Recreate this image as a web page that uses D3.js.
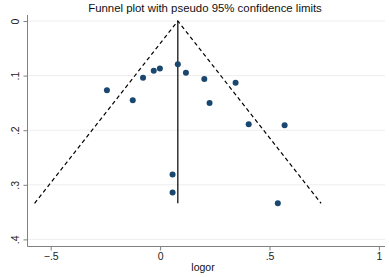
<!DOCTYPE html>
<html>
<head>
<meta charset="utf-8">
<script src="https://cdn.jsdelivr.net/npm/d3@7"></script>
<style>
  body { margin: 0; background: #fff; }
  text { font-family: "Liberation Sans", Arial, sans-serif; }
</style>
</head>
<body>
<div id="chart"></div>
<script>
// study estimates (log odds ratio) and their standard errors
const logor = [-0.243, -0.125, -0.078, -0.029, -0.001, 0.081, 0.118, 0.202, 0.226, 0.345, 0.405, 0.569, 0.057, 0.057, 0.538];
const se    = [0.127, 0.145, 0.104, 0.091, 0.087, 0.079, 0.095, 0.106, 0.150, 0.113, 0.189, 0.191, 0.281, 0.314, 0.334];
const pooled = 0.081;
const seMax = 0.334;
const xTicks = [-0.5, 0, 0.5, 1];
const yTicks = [0, 0.1, 0.2, 0.3, 0.4];

const fullWidth = 389, fullHeight = 277;

const svg = d3.select("#chart")
  .append("svg")
  .attr("width", fullWidth)
  .attr("height", fullHeight);

// scales
const x = d3.scaleLinear().domain([-0.5, 1]).range([50.7, 378.9]);
const y = d3.scaleLinear().domain([0, 0.4]).range([21, 239.4]);

const plotLeft = 27.5, plotRight = 385, plotTop = 15, plotBottom = 246.5;

// gridlines
svg.append("g")
  .selectAll("line")
  .data(yTicks)
  .join("line")
  .attr("x1", plotLeft)
  .attr("x2", plotRight)
  .attr("y1", d => y(d))
  .attr("y2", d => y(d))
  .attr("stroke", "#eeeeee")
  .attr("stroke-width", 1);

// Y axis
const yAxis = svg.append("g")
  .attr("transform", `translate(${plotLeft},0)`)
  .call(d3.axisLeft(y).tickValues(yTicks).tickSize(4).tickSizeOuter(0)
    .tickFormat(d => d === 0 ? "0" : d3.format(".1f")(d).replace(/^0/, "")));
yAxis.select(".domain").attr("d", `M0,${plotTop}V${plotBottom}`);
yAxis.selectAll(".domain, .tick line").attr("stroke", "#808080");
yAxis.selectAll(".tick text")
  .attr("transform", "rotate(-90)")
  .attr("x", 0)
  .attr("y", -9)
  .attr("dy", 0)
  .attr("text-anchor", "middle")
  .style("font-size", "10.5px")
  .attr("fill", "#222");

// X axis
const xAxis = svg.append("g")
  .attr("transform", `translate(0,${plotBottom})`)
  .call(d3.axisBottom(x).tickValues(xTicks).tickSize(4).tickSizeOuter(0)
    .tickFormat(d => d === 0 ? "0" : d3.format(".1f")(d).replace("0.", ".").replace(".0", "")));
xAxis.select(".domain").attr("d", `M${plotLeft},0H${plotRight}`);
xAxis.selectAll(".domain, .tick line").attr("stroke", "#808080");
xAxis.selectAll(".tick text")
  .attr("dy", "0.71em")
  .attr("y", 6)
  .style("font-size", "10.5px")
  .attr("fill", "#222");

// pseudo 95% confidence limits
const funnel = [[pooled - 1.96 * seMax, seMax], [pooled, 0], [pooled + 1.96 * seMax, seMax]];
svg.append("path")
  .datum(funnel)
  .attr("d", d3.line().x(d => x(d[0])).y(d => y(d[1])))
  .attr("fill", "none")
  .attr("stroke", "#000")
  .attr("stroke-width", 1.2)
  .attr("stroke-dasharray", "4,3");

// pooled estimate line
svg.append("line")
  .attr("x1", x(pooled))
  .attr("x2", x(pooled))
  .attr("y1", y(0))
  .attr("y2", y(seMax))
  .attr("stroke", "#000")
  .attr("stroke-width", 1.2);

// study points
svg.append("g")
  .selectAll("circle")
  .data(logor.map((d, i) => ({ x: d, y: se[i] })))
  .join("circle")
  .attr("cx", d => x(d.x))
  .attr("cy", d => y(d.y))
  .attr("r", 3)
  .attr("fill", "#1a476f");

// title
svg.append("text")
  .attr("x", 205)
  .attr("y", 12)
  .attr("text-anchor", "middle")
  .style("font-size", "11.4px")
  .attr("fill", "#111")
  .text("Funnel plot with pseudo 95% confidence limits");

// x label
svg.append("text")
  .attr("x", 203)
  .attr("y", 271)
  .attr("text-anchor", "middle")
  .style("font-size", "10.5px")
  .attr("fill", "#111")
  .text("logor");
</script>
</body>
</html>
